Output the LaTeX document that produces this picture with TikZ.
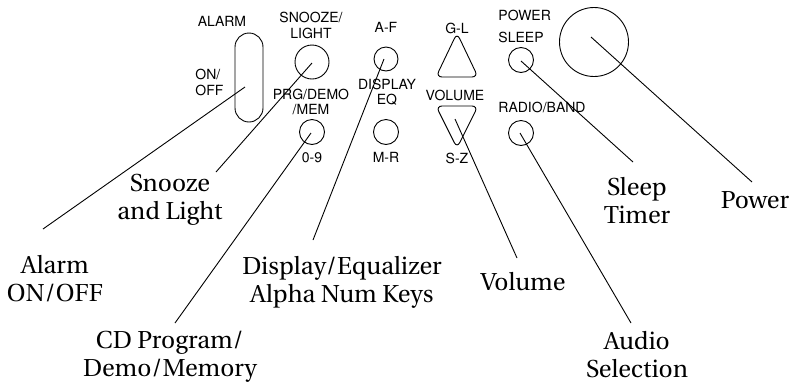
\documentclass[tikz,border=0pt]{standalone}
\usepackage[T1]{fontenc}
\newcommand\lblfont{\fontfamily{put}\fontsize{24.5}{28}\selectfont}
\newcommand\keyfont{\fontfamily{phv}\fontsize{14}{15}\selectfont}
\begin{document}
\begin{tikzpicture}[x=1pt,y=-1pt,line width=0.9pt,
  keytxt/.style={font=\keyfont,inner sep=0pt,align=center},
  lbl/.style={font=\lblfont,inner sep=0pt,align=center},
  btn/.style={draw,circle,inner sep=0pt,minimum size=#1},
  ptr/.style={line width=0.9pt}]
\useasboundingbox (0,0) rectangle (793,384);
% keys text
\node[keytxt] (talarm) at (222,22) {ALARM};
\node[keytxt,align=left,anchor=west] (tonoff) at (195,82) {ON/\\[1pt]OFF};
\node[keytxt] (tsnooze) at (311,25) {SNOOZE/\\[1pt]LIGHT};
\node[keytxt] (taf) at (386,28) {A-F};
\node[keytxt] (tprg) at (311,102) {PRG/DEMO\\[0pt]/MEM};
\node[keytxt] (tdisp) at (387,92) {DISPLAY\\[0pt]EQ};
\node[keytxt] (tgl) at (457,28) {G-L};
\node[keytxt] (tvol) at (455,95) {VOLUME};
\node[keytxt,anchor=west] (tpower) at (498,15) {POWER};
\node[keytxt,anchor=west] (tsleep) at (498,37) {SLEEP};
\node[keytxt] (tradio) at (542,107) {RADIO/BAND};
\node[keytxt] (t09) at (312,158) {0-9};
\node[keytxt] (tmr) at (386,158) {M-R};
\node[keytxt] (tsz) at (457,158) {S-Z};
% controls
\node[draw,rounded corners=14pt,minimum width=28pt,minimum height=89pt,inner sep=0pt] (alarm) at (249,77.5) {};
\node[btn=34pt] (snooze) at (312,62) {};
\node[btn=24pt] (af) at (386,59) {};
\node[btn=25pt] (prg) at (312,132) {};
\node[btn=25pt] (mr) at (386,132) {};
\node[btn=25pt] (sleep) at (521,60) {};
\node[btn=25pt] (radio) at (521,133) {};
\node[btn=69pt] (power) at (594,42) {};
\coordinate (gl) at (457,58);
\coordinate (vol) at (457,124);
\draw[rounded corners=6pt] (436,77) -- (478,77) -- (457,33) -- cycle;
\draw[rounded corners=6pt] (436,106) -- (478,106) -- (457,148) -- cycle;
% pointer anchors
\coordinate (alarmp) at (245,87);
\coordinate (snoozep) at (312,63);
\coordinate (afp) at (384,59);
\coordinate (prgp) at (311,133);
\coordinate (volp) at (455,119);
\coordinate (radiop) at (520,133);
\coordinate (sleepp) at (521,61);
\coordinate (powerp) at (591,37);
\coordinate (alarme) at (43,229);
\coordinate (snoozee) at (216,172);
\coordinate (afe) at (313,240);
\coordinate (prge) at (175,323);
\coordinate (vole) at (517,258);
\coordinate (radioe) at (631,323);
\coordinate (sleepe) at (633,162);
\coordinate (powere) at (752,182);
\draw[ptr] (alarmp) -- (alarme);
\draw[ptr] (snoozep) -- (snoozee);
\draw[ptr] (afp) -- (afe);
\draw[ptr] (prgp) -- (prge);
\draw[ptr] (volp) -- (vole);
\draw[ptr] (radiop) -- (radioe);
\draw[ptr] (sleepp) -- (sleepe);
\draw[ptr] (powerp) -- (powere);
% labels
\node[lbl] (lsnooze) at (170,200) {Snooze\\and Light};
\node[lbl] (lalarm) at (55,279) {Alarm\\ON/OFF};
\node[lbl] (lcd) at (170,357) {CD Program/\\Demo/Memory};
\node[lbl] (ldisp) at (342,282) {Display/Equalizer\\Alpha Num Keys};
\node[lbl] (lvol) at (523,281) {Volume};
\node[lbl] (laudio) at (637,355) {Audio\\Selection};
\node[lbl] (lsleep) at (637,200) {Sleep\\Timer};
\node[lbl] (lpower) at (755,200) {Power};
\end{tikzpicture}
\end{document}
